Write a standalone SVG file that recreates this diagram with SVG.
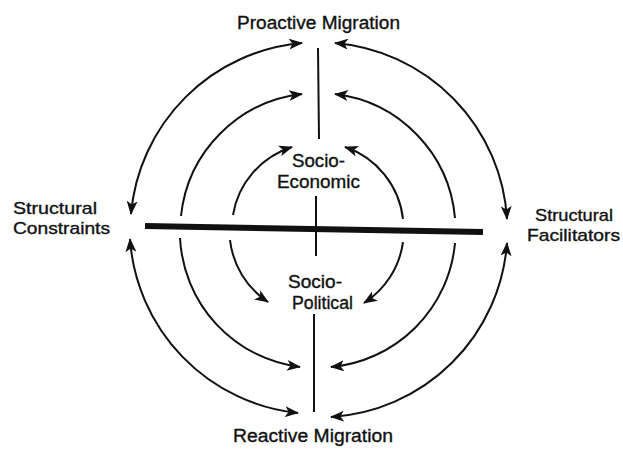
<svg xmlns="http://www.w3.org/2000/svg" width="623" height="449" viewBox="0 0 623 449">
<defs>
<marker id="ah" viewBox="0 0 14 11" refX="13" refY="5.5" markerWidth="14" markerHeight="11" markerUnits="userSpaceOnUse" orient="auto-start-reverse">
<path d="M0,0 L14,5.5 L0,11 L3.5,5.5 z" fill="#111"/>
</marker>
</defs>
<style>
.lbl{font-family:"Liberation Sans",Arial,sans-serif;font-size:18px;fill:#111;stroke:#111;stroke-width:0.35px;}
.sm{font-size:17px;}
.arc{fill:none;stroke:#111;stroke-width:2;}
.two{marker-start:url(#ah);marker-end:url(#ah);}
.one{marker-end:url(#ah);}
.ax{stroke:#111;stroke-width:2;fill:none;}
</style>
<rect width="623" height="449" fill="#fff"/>
<g id="connectors">
<line class="ax" x1="318" y1="48" x2="319" y2="139"/>
<line class="ax" x1="316" y1="196" x2="316" y2="256"/>
<line class="ax" x1="314" y1="314" x2="314" y2="412"/>
<line x1="145" y1="226" x2="483" y2="232" stroke="#111" stroke-width="6"/>
<path class="arc two" d="M131,214 A188,188 0 0 1 302,43"/>
<path class="arc two" d="M335,43 A188,188 0 0 1 507,219"/>
<path class="arc two" d="M130,239 A188,188 0 0 0 298,413"/>
<path class="arc two" d="M507,243 A188,188 0 0 1 331,417"/>
<path class="arc one" d="M181,216 A137,137 0 0 1 302,94"/>
<path class="arc one" d="M455,218 A137,137 0 0 0 335,94"/>
<path class="arc one" d="M180,238 A137,137 0 0 0 300,367"/>
<path class="arc one" d="M455,243 A137,137 0 0 1 331,367"/>
<path class="arc one" d="M233,215 A86,86 0 0 1 292,147"/>
<path class="arc one" d="M403,219 A86,86 0 0 0 345,147"/>
<path class="arc one" d="M230,240 A86,86 0 0 0 268,302"/>
<path class="arc one" d="M403,242 A86,86 0 0 1 364,303"/>
</g>
<g id="proactive">
<text class="lbl" x="237" y="29" textLength="163" lengthAdjust="spacingAndGlyphs">Proactive Migration</text>
</g>
<g id="reactive">
<text class="lbl" x="233" y="442" textLength="160" lengthAdjust="spacingAndGlyphs">Reactive Migration</text>
</g>
<g id="socio-economic">
<text class="lbl" x="292" y="167" textLength="53" lengthAdjust="spacingAndGlyphs">Socio-</text>
<text class="lbl" x="277" y="188" textLength="83" lengthAdjust="spacingAndGlyphs">Economic</text>
</g>
<g id="socio-political">
<text class="lbl" x="288" y="288" textLength="54" lengthAdjust="spacingAndGlyphs">Socio-</text>
<text class="lbl" x="292" y="309" textLength="61" lengthAdjust="spacingAndGlyphs">Political</text>
</g>
<g id="constraints">
<text class="lbl sm" x="13" y="214" textLength="84" lengthAdjust="spacingAndGlyphs">Structural</text>
<text class="lbl sm" x="13" y="234" textLength="97" lengthAdjust="spacingAndGlyphs">Constraints</text>
</g>
<g id="facilitators">
<text class="lbl sm" x="535" y="221" textLength="78" lengthAdjust="spacingAndGlyphs">Structural</text>
<text class="lbl sm" x="527" y="241" textLength="93" lengthAdjust="spacingAndGlyphs">Facilitators</text>
</g>
</svg>
